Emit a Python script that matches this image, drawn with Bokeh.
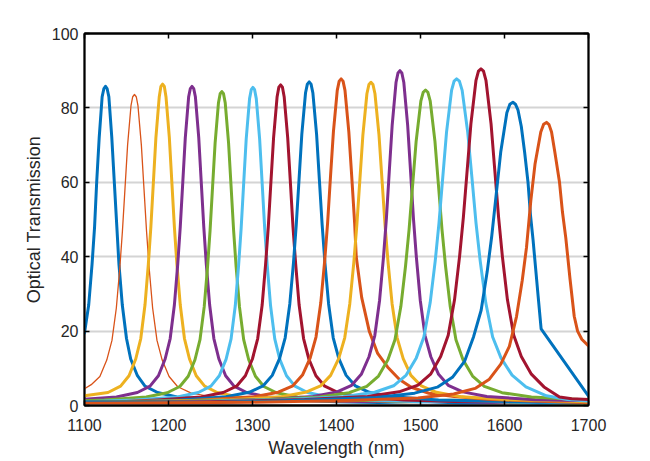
from bokeh.plotting import figure
from bokeh.models import Range1d, FixedTicker, LinearAxis
from bokeh.embed import file_html
from bokeh.resources import INLINE

# ---------------- data ----------------
x_ticks = [1100, 1200, 1300, 1400, 1500, 1600, 1700]
y_ticks = [0, 20, 40, 60, 80, 100]

peak01_wl = [1100, 1105, 1109, 1112, 1114.5, 1117.5, 1121, 1123.1, 1125, 1126.9, 1129, 1132.5, 1135.5, 1138.5, 1141, 1145, 1150, 1155, 1163, 1172, 1187, 1210, 1258, 1300, 1350, 1400, 1450, 1500, 1550, 1600, 1650, 1700]
peak01_t = [19.5, 27, 38, 48, 60, 72, 83, 85.2, 85.8, 85.2, 83, 72, 60, 48, 38, 27, 18, 12.5, 8, 5.2, 3.5, 2.3, 1.5, 1.2, 1.4, 1.0, 0.8, 1.1, 0.7, 0.9, 0.6, 0.5]

peak02_wl = [1100, 1108, 1118.3, 1126.5, 1132.7, 1137.9, 1142, 1145.1, 1148.2, 1151.3, 1155.4, 1157.4, 1159.5, 1161.6, 1163.6, 1167.7, 1170.8, 1173.9, 1177, 1181.1, 1186.3, 1192.5, 1200.7, 1211, 1226.5, 1252.2, 1303.5, 1350, 1420, 1500, 1580, 1650, 1700]
peak02_t = [4.5, 5.6, 7.8, 12.2, 17.5, 26.2, 36.9, 46.7, 58.3, 70, 80.7, 83.0, 83.6, 83.0, 80.7, 70, 58.3, 46.7, 36.9, 26.2, 17.5, 12.2, 7.8, 5.05, 3.4, 2.24, 1.46, 1.1, 0.9, 1.2, 0.8, 0.6, 0.5]

peak03_wl = [1100, 1128, 1143, 1153, 1161, 1167, 1172, 1176, 1179, 1182, 1185, 1189, 1191, 1193, 1195, 1197, 1201, 1204, 1207, 1210, 1214, 1219, 1225, 1233, 1243, 1258, 1283, 1333, 1400, 1480, 1560, 1640, 1700]
peak03_t = [2.6, 3.5, 5.2, 8, 12.5, 18, 27, 38, 48, 60, 72, 83, 85.8, 86.4, 85.8, 83, 72, 60, 48, 38, 27, 18, 12.5, 8, 5.2, 3.5, 2.3, 1.5, 1.3, 1.0, 1.2, 0.8, 0.7]

peak04_wl = [1100, 1138, 1163, 1178, 1188, 1196, 1202, 1207, 1211, 1214, 1217, 1220, 1224, 1226, 1228, 1230, 1232, 1236, 1239, 1242, 1245, 1249, 1254, 1260, 1268, 1278, 1293, 1318, 1368, 1430, 1500, 1580, 1650, 1700]
peak04_t = [1.7, 2.3, 3.5, 5.2, 8, 12.5, 18, 27, 38, 48, 60, 72, 83, 85.2, 85.8, 85.2, 83, 72, 60, 48, 38, 27, 18, 12.5, 8, 5.2, 3.5, 2.3, 1.5, 1.1, 1.3, 0.9, 1.0, 0.8]

peak05_wl = [1100, 1123.5, 1173.5, 1198.5, 1213.5, 1223.5, 1231.5, 1237.5, 1242.5, 1246.5, 1249.5, 1252.5, 1255.5, 1259.5, 1261.5, 1263.5, 1265.5, 1267.5, 1271.5, 1274.5, 1277.5, 1280.5, 1284.5, 1289.5, 1295.5, 1303.5, 1313.5, 1328.5, 1353.5, 1403.5, 1470, 1540, 1620, 1700]
peak05_t = [1.3, 1.47, 2.26, 3.43, 5.1, 7.85, 12.3, 17.7, 26.5, 37.3, 47.1, 58.9, 70.6, 81.4, 83.8, 84.4, 83.8, 81.4, 70.6, 58.9, 47.1, 37.3, 26.5, 17.7, 12.3, 7.85, 5.1, 3.43, 2.26, 1.47, 1.2, 1.4, 0.9, 0.7]

peak06_wl = [1100, 1160.5, 1210.5, 1235.5, 1250.5, 1260.5, 1268.5, 1274.5, 1279.5, 1283.5, 1286.5, 1289.5, 1292.5, 1296.5, 1298.5, 1300.5, 1302.5, 1304.5, 1308.5, 1311.5, 1314.5, 1317.5, 1321.5, 1326.5, 1332.5, 1340.5, 1350.5, 1365.5, 1390.5, 1440.5, 1500, 1560, 1630, 1700]
peak06_t = [1.0, 1.5, 2.3, 3.5, 5.2, 8, 12.4, 17.9, 26.8, 37.8, 47.7, 59.7, 71.6, 82.5, 84.9, 85.5, 84.9, 82.5, 71.6, 59.7, 47.7, 37.8, 26.8, 17.9, 12.4, 8, 5.2, 3.5, 2.3, 1.5, 1.0, 1.3, 0.8, 0.9]

peak07_wl = [1100, 1150, 1186.5, 1239, 1265.2, 1281, 1291.5, 1299.9, 1306.2, 1311.5, 1315.6, 1318.8, 1321.9, 1325.1, 1329.3, 1331.4, 1333.5, 1335.6, 1337.7, 1341.9, 1345.1, 1348.2, 1351.4, 1355.5, 1360.8, 1367.1, 1375.5, 1386, 1401.8, 1428, 1480.5, 1540, 1620, 1700]
peak07_t = [0.8, 1.1, 1.5, 2.3, 3.5, 5.2, 8, 12.5, 18, 27, 38, 48, 60, 72, 83, 85.6, 86.2, 85.6, 83, 72, 60, 48, 38, 27, 18, 12.5, 8, 5.2, 3.5, 2.3, 1.5, 1.1, 1.3, 0.9]

peak08_wl = [1100, 1160, 1213.5, 1268.5, 1296, 1312.5, 1323.5, 1332.3, 1338.9, 1344.4, 1348.8, 1352.1, 1355.4, 1358.7, 1363.1, 1365.3, 1367.5, 1369.7, 1371.9, 1376.3, 1379.6, 1382.9, 1386.2, 1390.6, 1396.1, 1402.7, 1411.5, 1422.5, 1439, 1466.5, 1521.5, 1580, 1640, 1700]
peak08_t = [0.6, 1.0, 1.5, 2.33, 3.54, 5.26, 8.1, 12.65, 18.2, 27.3, 38.4, 48.6, 60.7, 72.9, 84, 86.4, 87, 86.4, 84, 72.9, 60.7, 48.6, 38.4, 27.3, 18.2, 12.65, 8.1, 5.26, 3.54, 2.33, 1.5, 1.2, 0.9, 1.1]

peak09_wl = [1100, 1180, 1244.5, 1302, 1330.7, 1348, 1359.5, 1368.7, 1375.6, 1381.3, 1385.9, 1389.4, 1392.8, 1396.3, 1400.9, 1403.2, 1405.5, 1407.8, 1410.1, 1414.7, 1418.2, 1421.6, 1423.5, 1430, 1439, 1449, 1461, 1475, 1489, 1510, 1540, 1580, 1630, 1700]
peak09_t = [0.5, 0.9, 1.53, 2.35, 3.57, 5.3, 8.17, 12.8, 18.4, 27.6, 38.8, 49, 61.3, 73.5, 84.7, 87.2, 87.8, 87.2, 84.7, 73.5, 61.3, 49, 40, 29, 20, 14, 10.3, 7, 4.9, 3.3, 2.4, 1.7, 1.2, 0.8]

peak10_wl = [1100, 1200, 1273, 1333, 1363, 1381, 1393, 1402.6, 1409.8, 1415.8, 1420.6, 1424.2, 1427.8, 1431.4, 1436.2, 1438.6, 1441, 1443.4, 1445.8, 1450.6, 1454.2, 1457.8, 1461.4, 1466.2, 1472.2, 1479.4, 1488.6, 1501, 1519, 1549, 1609, 1660, 1700]
peak10_t = [1.0, 1.2, 1.52, 2.32, 3.54, 5.25, 8.1, 12.6, 18.2, 27.3, 38.4, 48.5, 60.6, 72.7, 83.8, 86.3, 86.9, 86.3, 83.8, 72.7, 60.6, 48.5, 38.4, 27.3, 18.2, 12.6, 8.1, 5.25, 3.54, 2.32, 1.52, 1.3, 1.0]

peak11_wl = [1100, 1200, 1314.5, 1372, 1400.7, 1418, 1429.5, 1438.7, 1445.6, 1451.3, 1455.9, 1459.4, 1462.8, 1466.3, 1470.9, 1473.2, 1475.5, 1477.8, 1480.1, 1484.7, 1488.2, 1491.6, 1495.1, 1499.7, 1505.4, 1512.3, 1521.5, 1533, 1550.3, 1579, 1636.5, 1700]
peak11_t = [0.7, 1.0, 1.57, 2.41, 3.66, 5.44, 8.38, 13.1, 18.8, 28.3, 39.8, 50.3, 62.8, 75.4, 86.9, 89.4, 90, 89.4, 86.9, 75.4, 62.8, 50.3, 39.8, 28.3, 18.8, 13.1, 8.38, 5.44, 3.66, 2.41, 1.57, 1.3]

peak12_wl = [1100, 1200, 1310, 1380, 1415, 1436, 1450, 1461.2, 1469.6, 1476.6, 1482.2, 1486.4, 1490.6, 1494.8, 1500.4, 1503.2, 1506, 1508.8, 1511.6, 1517.2, 1521.4, 1525.6, 1529.8, 1535.4, 1542.2, 1550.6, 1562, 1576, 1597, 1632, 1700]
peak12_t = [0.9, 1.1, 1.48, 2.27, 3.45, 5.13, 7.9, 12.3, 17.7, 26.6, 37.5, 47.3, 59.2, 71, 81.8, 84.2, 84.8, 84.2, 81.8, 71, 59.2, 47.3, 37.5, 26.6, 17.7, 12.3, 7.9, 5.13, 3.45, 2.27, 1.5]

peak13_wl = [1100, 1220, 1333, 1408, 1445.5, 1468, 1483, 1495, 1504, 1511.5, 1517.5, 1522, 1526.5, 1531, 1537, 1540, 1543, 1546.3, 1549.6, 1556.2, 1561.2, 1566.1, 1571.1, 1577.7, 1585.9, 1595.8, 1609, 1625.5, 1650, 1675, 1700]
peak13_t = [0.5, 1.0, 1.53, 2.35, 3.57, 5.3, 8.17, 12.8, 18.4, 27.6, 38.8, 49, 61.3, 73.5, 84.7, 87.2, 87.8, 87.2, 84.7, 73.5, 61.3, 49, 38.8, 27.6, 18.4, 12.8, 8.17, 5.0, 2.6, 1.6, 1.2]

peak14_wl = [1100, 1250, 1362, 1437, 1474.5, 1497, 1512, 1524, 1533, 1540.5, 1546.5, 1551, 1555.5, 1560, 1566, 1569, 1572, 1575, 1578, 1584, 1588.5, 1593, 1597.5, 1603.5, 1611, 1620, 1632, 1647, 1665.5, 1680, 1700]
peak14_t = [0.8, 1.0, 1.58, 2.42, 3.68, 5.47, 8.42, 13.2, 18.9, 28.4, 40, 50.5, 63.1, 75.7, 87.3, 89.9, 90.5, 89.9, 87.3, 75.7, 63.1, 50.5, 40, 28.4, 18.9, 13.2, 8.42, 5.0, 2.3, 1.8, 1.6]

peak15_wl = [1100, 1250, 1358, 1448, 1493, 1520, 1538, 1552.4, 1563.2, 1572.2, 1579.4, 1584.8, 1590.2, 1595.6, 1602.8, 1606.4, 1610, 1613, 1616, 1620, 1624, 1628, 1631, 1634, 1637, 1640, 1643.6, 1700]
peak15_t = [1.0, 0.8, 1.42, 2.18, 3.32, 4.93, 7.58, 11.85, 18.5, 25.6, 36, 45.5, 56.9, 68.3, 78.7, 81, 81.5, 81, 79.5, 75, 68, 60, 51, 44.5, 37, 29.5, 20.6, 2.5]

peak16_wl = [1100, 1300, 1412, 1497, 1539.5, 1565, 1582, 1595.6, 1605.8, 1614.3, 1621.1, 1626.2, 1631.3, 1636.4, 1643.2, 1646.6, 1650, 1653, 1656, 1660, 1665.5, 1669, 1673, 1678, 1683, 1687, 1692, 1700]
peak16_t = [0.6, 0.9, 1.33, 2.04, 3.1, 4.6, 7.08, 11.1, 15.9, 23.9, 33.6, 42.5, 55, 65, 73.5, 75.6, 76.1, 75.5, 73.5, 68, 60, 52, 45, 34, 24, 20, 17.8, 16]

series = [
    (peak01_wl, peak01_t, "#0072BD", 3),
    (peak02_wl, peak02_t, "#D95319", 1.3),
    (peak03_wl, peak03_t, "#EDB120", 3),
    (peak04_wl, peak04_t, "#7E2F8E", 3),
    (peak05_wl, peak05_t, "#77AC30", 3),
    (peak06_wl, peak06_t, "#4DBEEE", 3),
    (peak07_wl, peak07_t, "#A2142F", 3),
    (peak08_wl, peak08_t, "#0072BD", 3),
    (peak09_wl, peak09_t, "#D95319", 3),
    (peak10_wl, peak10_t, "#EDB120", 3),
    (peak11_wl, peak11_t, "#7E2F8E", 3),
    (peak12_wl, peak12_t, "#77AC30", 3),
    (peak13_wl, peak13_t, "#4DBEEE", 3),
    (peak14_wl, peak14_t, "#A2142F", 3),
    (peak15_wl, peak15_t, "#0072BD", 3),
    (peak16_wl, peak16_t, "#D95319", 3),
]

FONT = "Liberation Sans"
TXT = "#262626"

p = figure(width=640, height=460, output_backend="svg", toolbar_location=None,
           x_range=Range1d(1100, 1700), y_range=Range1d(0, 100),
           min_border_left=84, min_border_right=52, min_border_top=33, min_border_bottom=54,
           background_fill_color="white", border_fill_color="white")

for wl, t, col, lw in series:
    p.line(wl, t, line_color=col, line_width=lw, line_join="round", line_cap="round")

p.xgrid.visible = False
p.ygrid.ticker = FixedTicker(ticks=y_ticks)
p.ygrid.grid_line_color = "#d4d4d4"
p.ygrid.grid_line_width = 1.8
p.outline_line_color = "black"
p.outline_line_width = 1.8

def style_axis(ax, ticks, show_labels):
    ax.ticker = FixedTicker(ticks=ticks)
    ax.axis_line_color = "black"
    ax.axis_line_width = 1.8
    ax.major_tick_line_color = "black"
    ax.major_tick_line_width = 1.5
    ax.major_tick_in = 5
    ax.major_tick_out = 0
    ax.minor_tick_line_color = None
    if show_labels:
        ax.major_label_text_font = FONT
        ax.major_label_text_font_size = "16px"
        ax.major_label_text_color = TXT
        ax.axis_label_text_font = FONT
        ax.axis_label_text_font_size = "18px"
        ax.axis_label_text_font_style = "normal"
        ax.axis_label_text_color = TXT
    else:
        ax.major_label_text_font_size = "1px"
        ax.major_label_text_alpha = 0
        ax.major_label_standoff = 0

style_axis(p.xaxis[0], x_ticks, True)
style_axis(p.yaxis[0], y_ticks, True)
p.xaxis[0].axis_label = "Wavelength (nm)"
p.yaxis[0].axis_label = "Optical Transmission"
p.xaxis[0].major_label_standoff = 13
p.xaxis[0].axis_label_standoff = 4
p.yaxis[0].major_label_standoff = 6
p.yaxis[0].axis_label_standoff = 5

top_ax = LinearAxis()
style_axis(top_ax, x_ticks, False)
p.add_layout(top_ax, "above")
right_ax = LinearAxis()
style_axis(right_ax, y_ticks, False)
p.add_layout(right_ax, "right")

open("out.html", "w").write(file_html(p, INLINE))
